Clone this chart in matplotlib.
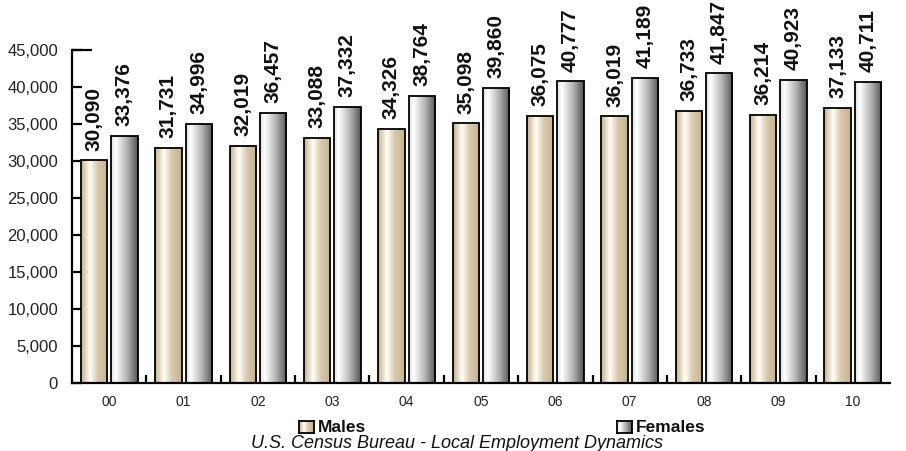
import numpy as np
import matplotlib
matplotlib.use("Agg")
import matplotlib.pyplot as plt
from matplotlib.colors import LinearSegmentedColormap

categories = ["00", "01", "02", "03", "04", "05", "06", "07", "08", "09", "10"]
males = [30090, 31731, 32019, 33088, 34326, 35098, 36075, 36019, 36733, 36214, 37133]
females = [33376, 34996, 36457, 37332, 38764, 39860, 40777, 41189, 41847, 40923, 40711]
yticks = [0, 5000, 10000, 15000, 20000, 25000, 30000, 35000, 40000, 45000]
series_names = ["Males", "Females"]
source = "U.S. Census Bureau - Local Employment Dynamics"

plt.rcParams['font.family'] = ['Liberation Sans', 'DejaVu Sans']

male_cmap = LinearSegmentedColormap.from_list("m", [
    (0.0, (0.77, 0.69, 0.55)),
    (0.33, (1.0, 1.0, 0.97)),
    (0.62, (0.85, 0.79, 0.68)),
    (1.0, (0.77, 0.69, 0.55)),
])
female_cmap = LinearSegmentedColormap.from_list("f", [
    (0.0, (0.88, 0.88, 0.88)),
    (0.18, (1.0, 1.0, 1.0)),
    (0.6, (0.70, 0.70, 0.70)),
    (1.0, (0.33, 0.33, 0.33)),
])
grad = np.linspace(0, 1, 256).reshape(1, -1)

fig = plt.figure(figsize=(9.06, 4.51), dpi=100)
ax = fig.add_axes([72/906, 1-383/451, (890-72)/906, (383-50)/451])

x = np.arange(len(categories))
w = 0.355
off = 0.204
ymax = 45000
ax.set_xlim(-0.5, len(categories) - 0.5)
ax.set_ylim(0, ymax)

for vals, sign, cmap in [(males, -1, male_cmap), (females, 1, female_cmap)]:
    bars = ax.bar(x + sign * off, vals, width=w, facecolor='none',
                  edgecolor='black', linewidth=1.3, zorder=3)
    for b, v in zip(bars, vals):
        x0 = b.get_x()
        im = ax.imshow(grad, cmap=cmap, aspect='auto',
                       extent=[x0, x0 + b.get_width(), 0, v], zorder=2,
                       interpolation='bilinear')
        im.set_clip_path(b)
        ax.annotate(f"{v:,}", (b.get_x() + b.get_width()/2, v),
                    xytext=(0, 7), textcoords='offset points',
                    rotation=90, ha='center', va='bottom',
                    fontsize=15, fontweight='bold', color='#111111',
                    annotation_clip=False)

ax.set_xlim(-0.5, len(categories) - 0.5)
ax.set_ylim(0, ymax)

for s in ['top', 'right']:
    ax.spines[s].set_visible(False)
for s in ['left', 'bottom']:
    ax.spines[s].set_linewidth(1.6)
    ax.spines[s].set_color('black')

ax.set_yticks(yticks)
ax.set_yticklabels([f"{t:,}" for t in yticks], fontsize=12, color='#222222')
ax.tick_params(axis='y', direction='in', length=7, width=1.6, pad=10)
# longer top tick as in the reference
ax.plot([0, 0.024], [1, 1], transform=ax.transAxes, color='black',
        linewidth=1.6, clip_on=False, solid_capstyle='butt', zorder=4)

ax.set_xticks(x)
ax.set_xticklabels(categories, fontsize=10, color='#222222')
ax.tick_params(axis='x', length=0, pad=9)
ax.set_xticks(np.arange(0.5, len(categories) - 0.5, 1), minor=True)
ax.tick_params(axis='x', which='minor', direction='in', length=6, width=1.6)

def legend_box(x0, cmap):
    lax = fig.add_axes([x0/906, 1-433/451, 15/906, 12/451])
    lax.imshow(grad, cmap=cmap, aspect='auto', interpolation='bilinear')
    lax.set_xticks([]); lax.set_yticks([])
    for sp in lax.spines.values():
        sp.set_linewidth(1.3)

legend_box(299, male_cmap)
fig.text(318/906, 1-427/451, series_names[0], fontsize=12.5, fontweight='bold',
         ha='left', va='center', color='#111111')
legend_box(617, female_cmap)
fig.text(636/906, 1-427/451, series_names[1], fontsize=12.5, fontweight='bold',
         ha='left', va='center', color='#111111')

fig.text(457/906, 1-443/451, source, fontsize=13, style='italic',
         ha='center', va='center', color='#111111')

fig.savefig("out.png", dpi=100)
